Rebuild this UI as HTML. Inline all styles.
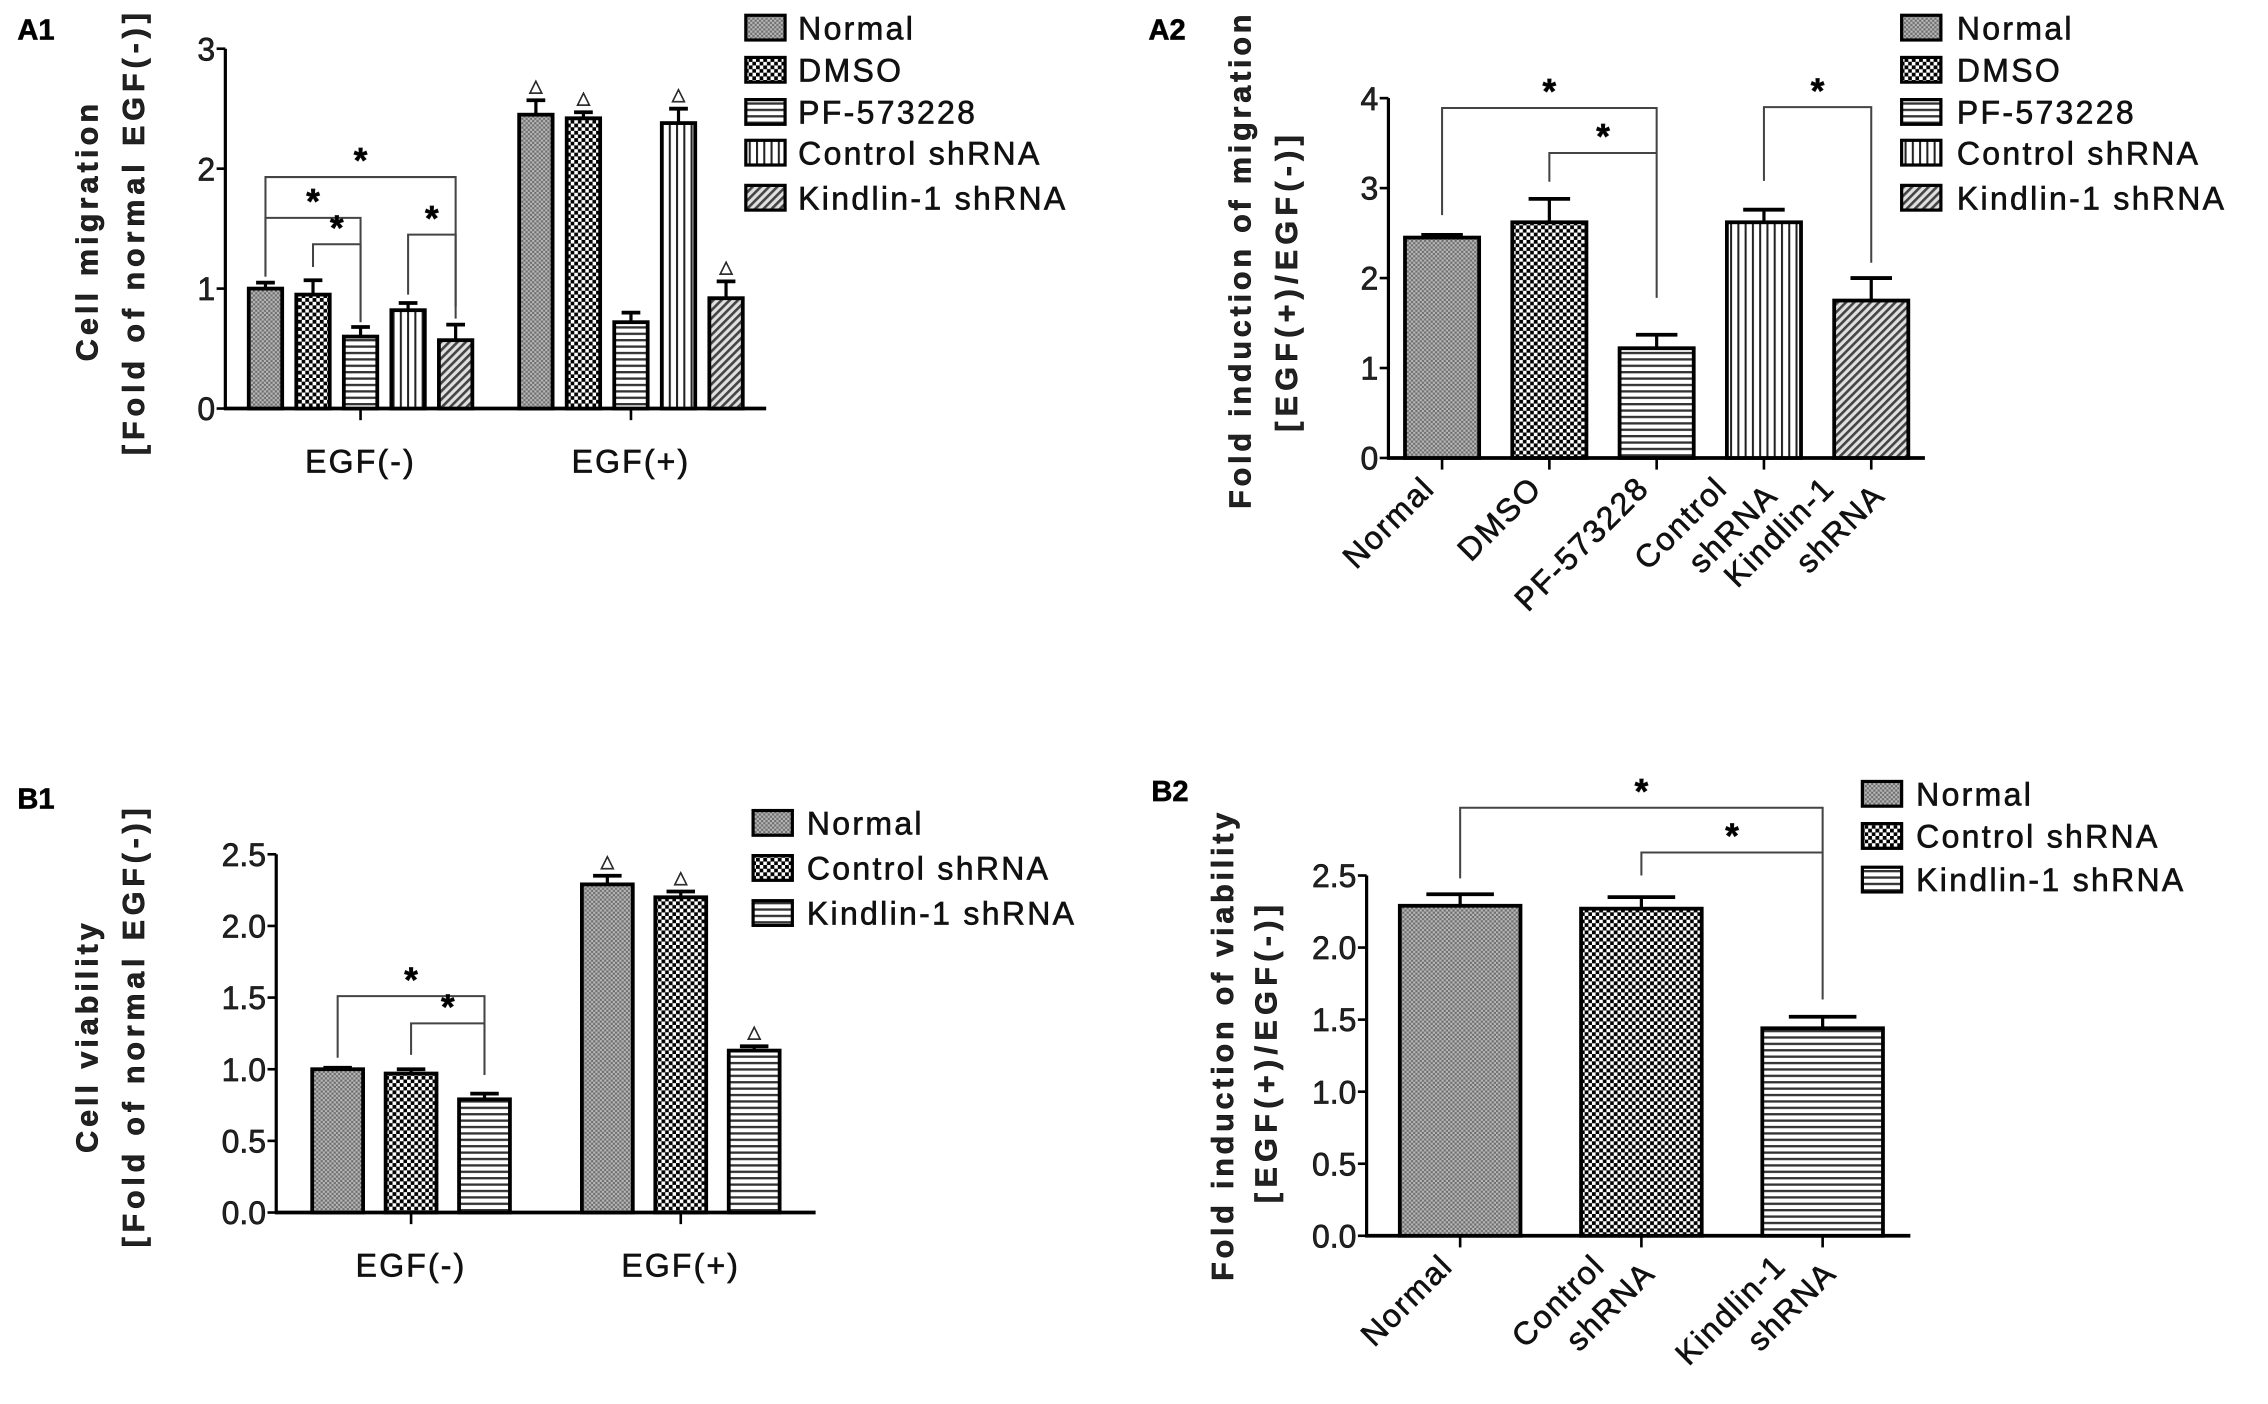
<!DOCTYPE html>
<html><head><meta charset="utf-8"><style>
html,body{margin:0;padding:0;background:#fff;}
svg{display:block;font-family:"Liberation Sans",Arial,sans-serif;}
text{stroke:#111;stroke-width:0.45px;}
</style></head><body>
<svg id="fig" xmlns="http://www.w3.org/2000/svg" width="2268" height="1404" viewBox="0 0 1560 965.7">
<defs>
<pattern id="pNormal" patternUnits="userSpaceOnUse" width="3" height="3"><rect width="3" height="3" fill="#6e6e6e"/><rect width="1.5" height="1.5" fill="#b8b8b8"/><rect x="1.5" y="1.5" width="1.5" height="1.5" fill="#b8b8b8"/></pattern>
<pattern id="pChecker" patternUnits="userSpaceOnUse" width="5" height="5"><rect width="5" height="5" fill="#fff"/><rect width="2.6" height="2.6" fill="#000"/><rect x="2.5" y="2.5" width="2.6" height="2.6" fill="#000"/></pattern>
<pattern id="pHoriz" patternUnits="userSpaceOnUse" width="4.4" height="4.4"><rect width="4.4" height="4.4" fill="#fff"/><rect width="4.4" height="1.6" fill="#333"/></pattern>
<pattern id="pVert" patternUnits="userSpaceOnUse" width="5" height="5"><rect width="5" height="5" fill="#fff"/><rect width="1.4" height="5" fill="#222"/></pattern>
<pattern id="pDiag" patternUnits="userSpaceOnUse" width="4" height="4" patternTransform="rotate(45)"><rect width="4" height="4" fill="#e0e0e0"/><rect width="1.8" height="4" fill="#444"/></pattern>
</defs>
<g id="root"></g>
</svg>
<script>
// ---------- Data ----------
const a1Groups = ["EGF(-)", "EGF(+)"];
const a1Series = ["Normal", "DMSO", "PF-573228", "Control shRNA", "Kindlin-1 shRNA"];
const a1NegValues = [1.0, 0.95, 0.6, 0.82, 0.57];
const a1NegErr = [0.05, 0.12, 0.08, 0.06, 0.13];
const a1PosValues = [2.45, 2.42, 0.72, 2.38, 0.92];
const a1PosErr = [0.12, 0.05, 0.08, 0.12, 0.14];
const a1PosMarks = [true, true, false, true, true];
const a1Ticks = ["0", "1", "2", "3"];
const a1TickValues = [0, 1, 2, 3];
const a1Brackets = [[0, 4, 1.93, 1.1, 0.85], [0, 2, 1.59, 1.1, 0.72], [1, 2, 1.37, 1.18, 0.72], [3, 4, 1.45, 0.95, 0.75]];

const a2Categories = ["Normal", "DMSO", "PF-573228", "Control|shRNA", "Kindlin-1|shRNA"];
const a2Values = [2.45, 2.62, 1.22, 2.62, 1.75];
const a2Err = [0.03, 0.26, 0.15, 0.14, 0.25];
const a2Ticks = ["0", "1", "2", "3", "4"];
const a2TickValues = [0, 1, 2, 3, 4];
const a2Brackets = [[0, 2, 3.89, 2.7, 1.78], [1, 2, 3.39, 3.07, 3.39], [3, 4, 3.9, 3.08, 2.17]];

const b1Groups = ["EGF(-)", "EGF(+)"];
const b1Series = ["Normal", "Control shRNA", "Kindlin-1 shRNA"];
const b1NegValues = [1.0, 0.97, 0.79];
const b1NegErr = [0.01, 0.03, 0.04];
const b1PosValues = [2.29, 2.2, 1.13];
const b1PosErr = [0.06, 0.04, 0.03];
const b1PosMarks = [true, true, true];
const b1Ticks = ["0.0", "0.5", "1.0", "1.5", "2.0", "2.5"];
const b1TickValues = [0, 0.5, 1, 1.5, 2, 2.5];
const b1Brackets = [[0, 2, 1.51, 1.08, 0.96], [1, 2, 1.32, 1.1, 0.96]];

const b2Categories = ["Normal", "Control|shRNA", "Kindlin-1|shRNA"];
const b2Values = [2.29, 2.27, 1.44];
const b2Err = [0.08, 0.08, 0.08];
const b2Ticks = ["0.0", "0.5", "1.0", "1.5", "2.0", "2.5"];
const b2TickValues = [0, 0.5, 1, 1.5, 2, 2.5];
const b2Brackets = [[0, 2, 2.97, 2.48, 1.64], [1, 2, 2.66, 2.5, 2.66]];

// ---------- Drawing ----------
const NS = "http://www.w3.org/2000/svg";
const root = document.getElementById("root");
function mk(tag, attrs, parent, name) {
  const e = document.createElementNS(NS, tag);
  for (const k in attrs) e.setAttribute(k, attrs[k]);
  
  
  parent.appendChild(e);
  return e;
}
function txt(str, attrs, parent, name) {
  const t = mk("text", attrs, parent, name);
  t.textContent = str;
  return t;
}
function line(x1, y1, x2, y2, parent, name, w) {
  return mk("line", {x1: x1, y1: y1, x2: x2, y2: y2, stroke: "#000", "stroke-width": w || 2}, parent, name);
}

function drawAxes(g, cfg) {
  const y = v => cfg.y0 - (v - cfg.vmin) * (cfg.y0 - cfg.yTop) / (cfg.vmax - cfg.vmin);
  line(cfg.x0, cfg.y0 + 1, cfg.x0, cfg.yTop, g, "y-axis", 2.2);
  line(cfg.x0 - 1, cfg.y0, cfg.x1, cfg.y0, g, "x-axis", 2.6);
  cfg.tickValues.forEach((v, i) => {
    line(cfg.x0 - 6, y(v), cfg.x0, y(v), g, "y-tick", 1.8);
    txt(cfg.ticks[i], {x: cfg.x0 - 7, y: y(v) + 8, "text-anchor": "end", "font-size": 22, fill: "#222"}, g, "y-tick-label");
  });
  const tt = mk("text", {transform: "translate(" + cfg.t1x + "," + cfg.t1y + ") rotate(-90)", "text-anchor": "middle", "font-size": 21, "font-weight": "bold", fill: "#222", textLength: cfg.t1len, lengthAdjust: "spacing"}, g, "y-axis-title");
  tt.textContent = cfg.title1;
  const t2 = mk("text", {transform: "translate(" + cfg.t2x + "," + cfg.t2y + ") rotate(-90)", "text-anchor": "middle", "font-size": 21, "font-weight": "bold", fill: "#222", textLength: cfg.t2len, lengthAdjust: "spacing"}, g, "y-axis-subtitle");
  t2.textContent = cfg.title2;
  return y;
}
function drawBar(g, cx, w, v, err, y, y0, fill, name) {
  mk("rect", {x: cx - w / 2, y: y(v), width: w, height: y0 - y(v), fill: fill, stroke: "#000", "stroke-width": 2.6}, g, name);
  line(cx, y(v), cx, y(v + err), g, "error-bar", 2.2);
  line(cx - w * 0.28, y(v + err), cx + w * 0.28, y(v + err), g, "error-cap", 2.6);
}
function drawBrackets(g, br, xs, y, name) {
  br.forEach(b => {
    const xa = xs[b[0]], xb = xs[b[1]], yy = y(b[2]);
    mk("polyline", {points: xa + "," + y(b[3]) + " " + xa + "," + yy + " " + xb + "," + yy + " " + xb + "," + y(b[4]), fill: "none", stroke: "#444", "stroke-width": 1.4}, g, name);
    txt("*", {x: (xa + xb) / 2, y: yy - 3, "text-anchor": "middle", "font-size": 24, "font-weight": "bold"}, g, "significance-star");
  });
}
function drawLegend(g, names, fills, bx, tx, ys) {
  names.forEach((n, i) => {
    const lg = mk("g", {}, g, "legend-entry");
    mk("rect", {x: bx, y: ys[i] - 8.5, width: 27, height: 17, fill: fills[i], stroke: "#000", "stroke-width": 2.2}, lg, "legend-swatch");
    txt(n, {x: tx, y: ys[i] + 8, "font-size": 22, fill: "#111", "letter-spacing": 1.6}, lg, "legend-label");
  });
}
function drawRotLabels(g, cats, xs, y0, dx1, dx2) {
  cats.forEach((c, i) => {
    const parts = c.split("|");
    const ax = xs[i] + (parts.length > 1 ? dx2 : dx1), ay = y0 + 22;
    const lg = mk("g", {transform: "translate(" + ax + "," + ay + ") rotate(-45)"}, g, "x-tick-label");
    txt(parts[0], {x: 0, y: 0, "text-anchor": "end", "font-size": 22, fill: "#111", "letter-spacing": 1.2}, lg, "x-label-line");
    if (parts[1]) txt(parts[1], {x: 21, y: 28, "text-anchor": "end", "font-size": 22, fill: "#111", "letter-spacing": 1.2}, lg, "x-label-line");
  });
}
function groupedPanel(name, cfg, groups, series, neg, negE, pos, posE, marks, fills, brackets, spacing, bw) {
  const g = mk("g", {}, root, name);
  const y = drawAxes(g, cfg);
  const gw = (cfg.x1 - cfg.x0) / groups.length;
  const n = series.length;
  const gc = groups.map((_, i) => cfg.x0 + (i + 0.5) * gw);
  const negX = [];
  [neg, pos].forEach((vals, gi) => {
    const errs = gi === 0 ? negE : posE;
    vals.forEach((v, j) => {
      const cx = gc[gi] + (j - (n - 1) / 2) * spacing;
      if (gi === 0) negX.push(cx);
      drawBar(g, cx, bw, v, errs[j], y, cfg.y0, fills[j], "bar-" + groups[gi].replace(/[()]/g, "") + "-" + j);
      if (gi === 1 && marks[j]) txt("\u25B3", {x: cx, y: y(v + errs[j]) - 6, "text-anchor": "middle", "font-size": 12, fill: "#666", stroke: "none"}, g, "triangle-marker");
    });
    line(gc[gi], cfg.y0, gc[gi], cfg.y0 + 8, g, "x-tick", 1.8);
    txt(groups[gi], {x: gc[gi], y: cfg.y0 + 44, "text-anchor": "middle", "font-size": 22, fill: "#111", "letter-spacing": 1.5}, g, "x-group-label");
  });
  drawBrackets(g, brackets, negX, y, "significance-bracket");
  return g;
}
function simplePanel(name, cfg, cats, vals, errs, fills, brackets, bw) {
  const g = mk("g", {}, root, name);
  const y = drawAxes(g, cfg);
  const bwid = (cfg.x1 - cfg.x0) / cats.length;
  const xs = cats.map((_, i) => cfg.x0 + (i + 0.5) * bwid + cfg.shift);
  vals.forEach((v, i) => {
    drawBar(g, xs[i], bw, v, errs[i], y, cfg.y0, fills[i], "bar-" + i);
    line(xs[i], cfg.y0, xs[i], cfg.y0 + 8, g, "x-tick", 1.8);
  });
  drawBrackets(g, brackets, xs, y, "significance-bracket");
  drawRotLabels(g, cats, xs, cfg.y0, -4, -24);
  return g;
}

const fA = ["url(#pNormal)", "url(#pChecker)", "url(#pHoriz)", "url(#pVert)", "url(#pDiag)"];
const fB = ["url(#pNormal)", "url(#pChecker)", "url(#pHoriz)"];

// A1
const gA1 = groupedPanel("panel-a1", {x0: 155, x1: 527, y0: 281, yTop: 33.5, vmin: 0, vmax: 3, ticks: a1Ticks, tickValues: a1TickValues,
  title1: "Cell migration", t1x: 67, t1y: 160, t1len: 177, title2: "[Fold of  normal EGF(-)]", t2x: 99, t2y: 161, t2len: 304},
  a1Groups, a1Series, a1NegValues, a1NegErr, a1PosValues, a1PosErr, a1PosMarks, fA, a1Brackets, 32.7, 23);
txt("A1", {x: 12, y: 27, "font-size": 20, "font-weight": "bold"}, gA1, "panel-label");
drawLegend(gA1, a1Series, fA, 513, 549, [19, 48, 77, 105, 136]);

// A2
const gA2 = simplePanel("panel-a2", {x0: 955, x1: 1324, y0: 315, yTop: 67.5, vmin: 0, vmax: 4, ticks: a2Ticks, tickValues: a2TickValues, shift: 0,
  title1: "Fold induction of migration", t1x: 860, t1y: 180, t1len: 340, title2: "[EGF(+)/EGF(-)]", t2x: 892, t2y: 195, t2len: 204},
  a2Categories, a2Values, a2Err, fA, a2Brackets, 51);
txt("A2", {x: 790, y: 27, "font-size": 20, "font-weight": "bold"}, gA2, "panel-label");
drawLegend(gA2, a1Series, fA, 1308, 1346, [19, 48, 77, 105, 136]);

// B1
const gB1 = groupedPanel("panel-b1", {x0: 190, x1: 561, y0: 834, yTop: 587.6, vmin: 0, vmax: 2.5, ticks: b1Ticks, tickValues: b1TickValues,
  title1: "Cell viability", t1x: 67, t1y: 714, t1len: 158, title2: "[Fold of  normal EGF(-)]", t2x: 99, t2y: 707, t2len: 302},
  b1Groups, b1Series, b1NegValues, b1NegErr, b1PosValues, b1PosErr, b1PosMarks, fB, b1Brackets, 50.5, 35);
txt("B1", {x: 12, y: 556, "font-size": 20, "font-weight": "bold"}, gB1, "panel-label");
drawLegend(gB1, b1Series, fB, 518, 555, [566, 597, 628]);

// B2
const gB2 = simplePanel("panel-b2", {x0: 940, x1: 1314, y0: 850, yTop: 602.2, vmin: 0, vmax: 2.5, ticks: b2Ticks, tickValues: b2TickValues, shift: 2,
  title1: "Fold induction of viability", t1x: 848, t1y: 720, t1len: 322, title2: "[EGF(+)/EGF(-)]", t2x: 878, t2y: 725, t2len: 205},
  b2Categories, b2Values, b2Err, fB, b2Brackets, 83);
txt("B2", {x: 792, y: 551, "font-size": 20, "font-weight": "bold"}, gB2, "panel-label");
drawLegend(gB2, b1Series, fB, 1281, 1318, [546, 575, 605]);
</script>
</body></html>
